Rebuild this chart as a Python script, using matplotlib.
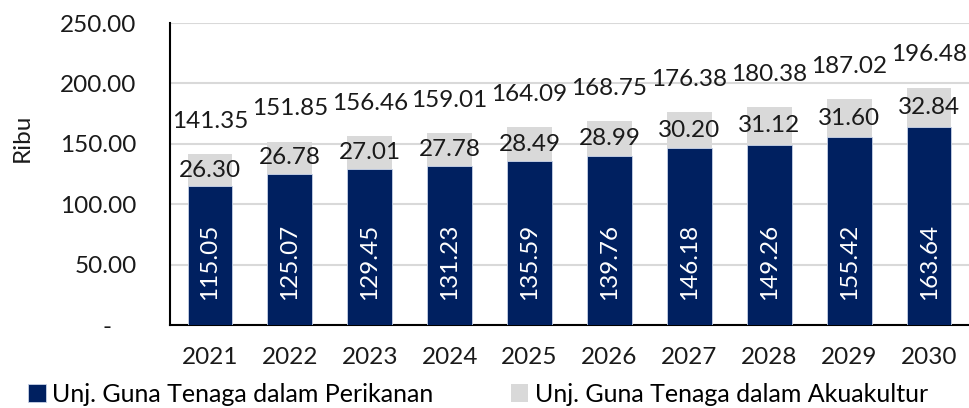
import numpy as np
import matplotlib.pyplot as plt

plt.rcParams['font.family'] = ['Lato', 'DejaVu Sans']

years = ['2021', '2022', '2023', '2024', '2025', '2026', '2027', '2028', '2029', '2030']
perikanan = [115.05, 125.07, 129.45, 131.23, 135.59, 139.76, 146.18, 149.26, 155.42, 163.64]
akuakultur = [26.30, 26.78, 27.01, 27.78, 28.49, 28.99, 30.20, 31.12, 31.60, 32.84]
total = [141.35, 151.85, 156.46, 159.01, 164.09, 168.75, 176.38, 180.38, 187.02, 196.48]

navy = '#002060'
grey = '#d9d9d9'
fs = 17.5

fig = plt.figure(figsize=(9.69, 4.08), dpi=100)
ax = fig.add_axes([0.1754, 0.2034, 0.8246, 0.7402])

x = np.arange(len(years))
b1 = ax.bar(x, perikanan, width=0.56, color=navy, edgecolor='#c8d3e6', linewidth=0.6,
            label='Unj. Guna Tenaga dalam Perikanan', zorder=3)
b2 = ax.bar(x, akuakultur, width=0.56, bottom=perikanan, color=grey, linewidth=0,
            label='Unj. Guna Tenaga dalam Akuakultur', zorder=3)

# white rotated values near the base of each dark bar
for xi, v in zip(x, perikanan):
    ax.annotate(f'{v:.2f}', (xi, 0), xytext=(0, 18), textcoords='offset points',
                rotation=90, ha='center', va='bottom', color='white', fontsize=fs, zorder=4)

ax.bar_label(b2, labels=[f'{v:.2f}' for v in akuakultur], label_type='center',
             fontsize=fs, color='#1a1a1a', zorder=4)

for xi, t in zip(x, total):
    ax.annotate(f'{t:.2f}', (xi, t), xytext=(0, 16), textcoords='offset points',
                ha='center', va='bottom', fontsize=fs, color='#1a1a1a', zorder=4)

ax.set_xlim(-0.5, len(years) - 0.5)
ax.set_ylim(0, 250)
ax.set_yticks(np.arange(0, 251, 50))
ax.set_yticklabels(['-    '] + [f'{v:.2f}' for v in np.arange(50, 251, 50)])
ax.set_xticks(x)
ax.set_xticklabels(years)
ax.tick_params(axis='y', length=0, pad=24, labelsize=fs, labelcolor='#1a1a1a')
ax.tick_params(axis='x', length=0, pad=16, labelsize=fs, labelcolor='#1a1a1a')
ax.yaxis.grid(True, color='#d9d9d9', linewidth=1.5, zorder=0)
ax.set_axisbelow(True)

for s in ['top', 'right']:
    ax.spines[s].set_visible(False)
ax.spines['left'].set_linewidth(1.5)
ax.spines['bottom'].set_linewidth(1.5)
ax.spines['left'].set_color('black')
ax.spines['bottom'].set_color('black')

ax.set_ylabel('Ribu', fontsize=fs, color='#1a1a1a')
ax.yaxis.set_label_coords(-0.172, 0.62)

fig.legend(handles=[b1, b2], loc='lower left', bbox_to_anchor=(0.006, -0.05), ncol=2,
           frameon=False, fontsize=fs + 0.5, handlelength=0.7, handleheight=0.7,
           handletextpad=0.25, columnspacing=3.1)

fig.savefig('out.png', dpi=100)
